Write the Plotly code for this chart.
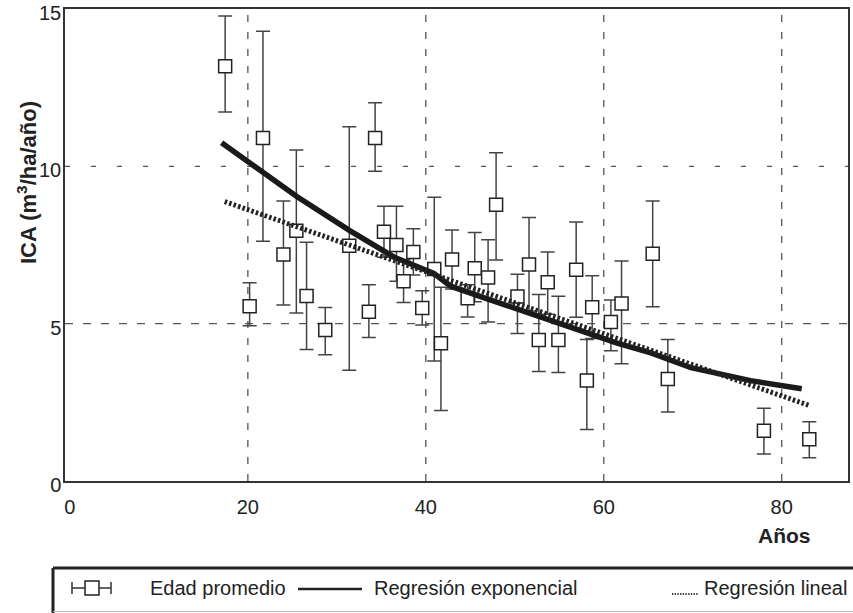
import plotly.graph_objects as go

# ---------------- data ----------------
edad = [17.45, 20.2, 21.7, 24.0, 25.45, 26.6, 28.7, 31.4, 33.6, 34.3, 35.3, 36.7,
        37.5, 38.6, 39.6, 40.95, 41.7, 42.95, 44.7, 45.5, 47.0, 47.9, 50.3, 51.6,
        52.7, 53.7, 54.9, 56.9, 58.1, 58.7, 60.8, 62.0, 65.5, 67.2, 78.0, 83.1]
ica = [13.18, 5.55, 10.9, 7.2, 7.95, 5.88, 4.8, 7.48, 5.38, 10.9, 7.92, 7.5,
       6.35, 7.28, 5.5, 6.74, 4.38, 7.04, 5.81, 6.76, 6.47, 8.78, 5.86, 6.88,
       4.48, 6.32, 4.48, 6.71, 3.19, 5.52, 5.05, 5.64, 7.22, 3.24, 1.6, 1.33]
ica_sup = [14.78, 6.3, 14.29, 8.9, 10.52, 7.59, 5.51, 11.26, 6.24, 12.02, 8.73, 8.73,
           7.03, 8.02, 6.05, 9.02, 6.16, 7.98, 6.24, 7.9, 7.67, 10.43, 6.57, 8.37,
           5.93, 7.28, 5.87, 8.23, 4.5, 6.52, 5.75, 6.99, 8.9, 4.5, 2.31, 1.88]
ica_inf = [11.73, 4.93, 7.62, 5.59, 5.34, 4.18, 4.01, 3.52, 4.56, 9.84, 7.11, 6.35,
           5.67, 6.55, 4.96, 3.81, 2.24, 6.1, 5.21, 5.7, 5.05, 7.02, 4.69, 5.4,
           3.48, 5.3, 3.45, 5.2, 1.64, 4.53, 4.14, 3.73, 5.54, 2.19, 0.86, 0.74]

exp_x = [17.05, 25.5, 31.5, 36.4, 40.9, 42.8, 46.5, 52.1, 57.8, 61.5, 65.3, 69.8, 76.5, 82.25]
exp_y = [10.75, 9.04, 7.95, 7.12, 6.6, 6.19, 5.83, 5.31, 4.74, 4.38, 4.07, 3.6, 3.19, 2.93]

lin_x = [17.4, 83.2]
lin_y = [8.88, 2.39]

x_ticks = [0, 20, 40, 60, 80]
y_ticks = [0, 5, 10, 15]
x_grid = [20, 40, 60, 80]
y_grid = [5, 10]
y_grid_dash = ["8px,10px", "5px,21px"]

labels = ["Edad promedio", "Regresión exponencial", "Regresión lineal"]

# ---------------- layout helpers ----------------
W, H = 853, 613
ML, MR, MT, MB = 65, 5, 9, 132
PW, PH = W - ML - MR, H - MT - MB


def px(x):
    return (x - ML) / PW


def py(y):
    return (H - MB - y) / PH


FONT = "Liberation Sans, Arial, Helvetica, sans-serif"
INK = "#222222"
FS = 20

err_plus = [s - v for s, v in zip(ica_sup, ica)]
err_minus = [v - i for v, i in zip(ica, ica_inf)]

fig = go.Figure()
fig.add_trace(go.Scatter(
    x=edad, y=ica, mode="markers", name=labels[0],
    marker=dict(symbol="square", size=13, color="white",
                line=dict(color=INK, width=1.5)),
    error_y=dict(type="data", symmetric=False, array=err_plus, arrayminus=err_minus,
                 color="#444444", thickness=1.5, width=7),
    showlegend=False,
))
fig.add_trace(go.Scatter(
    x=exp_x, y=exp_y, mode="lines", name=labels[1],
    line=dict(color="#1a1a1a", width=5.5), showlegend=False,
))
fig.add_trace(go.Scatter(
    x=lin_x, y=lin_y, mode="lines", name=labels[2],
    line=dict(color="#222222", width=5, dash="2.5px,2.2px"), showlegend=False,
))

shapes = []
for gx in x_grid:
    shapes.append(dict(type="line", xref="x", yref="paper", x0=gx, x1=gx, y0=0, y1=1,
                       line=dict(color="#555555", width=1.3, dash="7px,10px"), layer="below"))
for gy, d in zip(y_grid, y_grid_dash):
    shapes.append(dict(type="line", xref="paper", yref="y", x0=0, x1=1, y0=gy, y1=gy,
                       line=dict(color="#555555", width=1.3, dash=d), layer="below"))

# legend box (drawn by hand to follow the original arrangement)
shapes += [
    dict(type="line", xref="paper", yref="paper", x0=px(53), x1=px(860), y0=py(568), y1=py(568),
         line=dict(color=INK, width=3)),
    dict(type="line", xref="paper", yref="paper", x0=px(53), x1=px(53), y0=py(568), y1=py(614),
         line=dict(color=INK, width=3)),
    dict(type="line", xref="paper", yref="paper", x0=px(53), x1=px(860), y0=py(611.5), y1=py(611.5),
         line=dict(color="#bbbbbb", width=1)),
    # error-bar symbol
    dict(type="line", xref="paper", yref="paper", x0=px(72), x1=px(111), y0=py(588), y1=py(588),
         line=dict(color="#333333", width=1.5)),
    dict(type="line", xref="paper", yref="paper", x0=px(72), x1=px(72), y0=py(582), y1=py(594),
         line=dict(color="#333333", width=1.5)),
    dict(type="line", xref="paper", yref="paper", x0=px(111), x1=px(111), y0=py(582), y1=py(594),
         line=dict(color="#333333", width=1.5)),
    dict(type="rect", xref="paper", yref="paper", x0=px(85), x1=px(99), y0=py(595), y1=py(581),
         fillcolor="white", line=dict(color=INK, width=1.5)),
    # solid sample
    dict(type="line", xref="paper", yref="paper", x0=px(298), x1=px(362), y0=py(589), y1=py(589),
         line=dict(color=INK, width=2.5)),
    # dotted sample
    dict(type="line", xref="paper", yref="paper", x0=px(672), x1=px(699), y0=py(594), y1=py(594),
         line=dict(color="#333333", width=1.8, dash="1.3px,1.4px")),
]

annotations = [
    dict(text=labels[0], xref="paper", yref="paper", x=px(148), y=py(588), xanchor="left",
         yanchor="middle", showarrow=False, font=dict(family=FONT, size=FS, color=INK)),
    dict(text=labels[1], xref="paper", yref="paper", x=px(372), y=py(588), xanchor="left",
         yanchor="middle", showarrow=False, font=dict(family=FONT, size=FS, color=INK)),
    dict(text=labels[2], xref="paper", yref="paper", x=px(702), y=py(588), xanchor="left",
         yanchor="middle", showarrow=False, font=dict(family=FONT, size=FS, color=INK)),
    dict(text="<b>Años</b>", xref="x", x=80.3, yref="paper", y=py(535), xanchor="center",
         yanchor="middle", showarrow=False, font=dict(family=FONT, size=21, color=INK)),
    dict(text="<b>ICA (m<sup>3</sup>/ha/año)</b>", xref="paper", yref="paper", x=px(27), y=py(183),
         xanchor="center", yanchor="middle", textangle=-90, showarrow=False,
         font=dict(family=FONT, size=22, color=INK)),
]

fig.update_layout(
    width=W, height=H,
    margin=dict(l=ML, r=MR, t=MT, b=MB, pad=0, autoexpand=False),
    paper_bgcolor="white", plot_bgcolor="white",
    shapes=shapes, annotations=annotations,
    showlegend=False,
    xaxis=dict(range=[-0.55, 87.45], tickvals=x_ticks, showgrid=False, zeroline=False,
               showline=True, mirror=True, linecolor="#333333", linewidth=1.5,
               ticks="", ticklabelstandoff=7, ticklabeloverflow="allow", automargin=False,
               tickfont=dict(family=FONT, size=FS, color=INK)),
    yaxis=dict(range=[0, 15], tickvals=y_ticks, showgrid=False, zeroline=False,
               showline=True, mirror=True, linecolor="#333333", linewidth=1.5,
               ticks="", ticklabelstandoff=-2, ticklabelshift=4,
               ticklabeloverflow="allow", automargin=False,
               tickfont=dict(family=FONT, size=FS, color=INK)),
)

fig.write_html("out.html")
